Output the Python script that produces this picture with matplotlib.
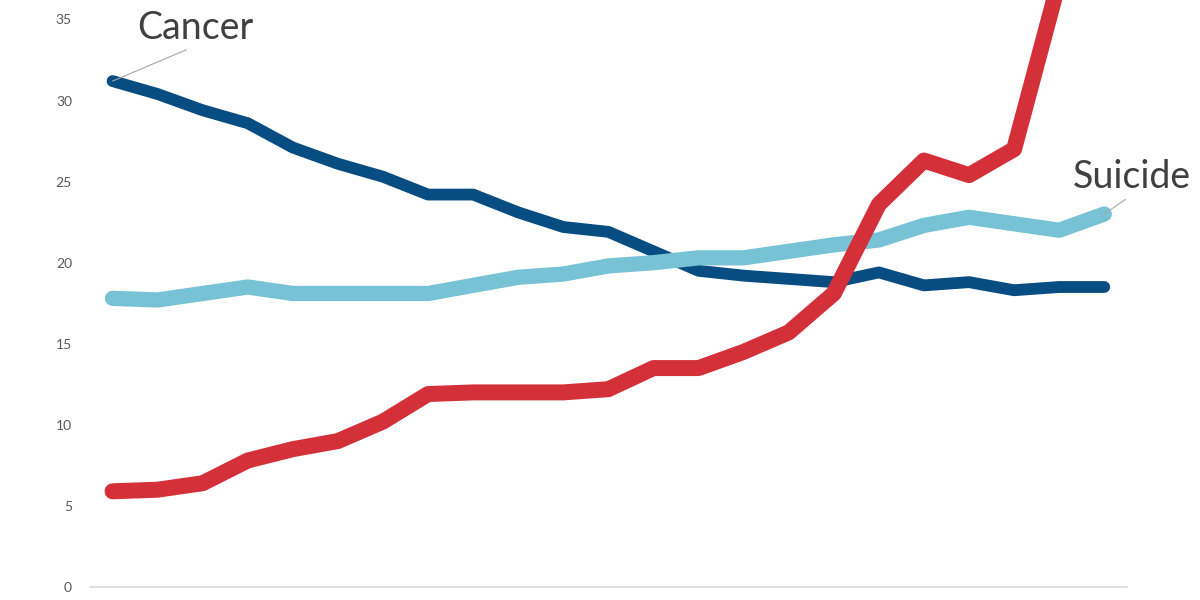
import matplotlib.pyplot as plt
import numpy as np

# values (23 yearly points)
years = list(range(23))
cancer = [31.2, 30.4, 29.4, 28.6, 27.1, 26.1, 25.3, 24.2, 24.2, 23.1, 22.2, 21.9,
          20.7, 19.5, 19.2, 19.0, 18.8, 19.4, 18.6, 18.8, 18.3, 18.5, 18.5]
suicide = [17.8, 17.7, 18.1, 18.5, 18.1, 18.1, 18.1, 18.1, 18.6, 19.1, 19.3, 19.8,
           20.0, 20.3, 20.3, 20.7, 21.1, 21.4, 22.3, 22.8, 22.4, 22.0, 23.0]
overdose = [5.9, 6.0, 6.4, 7.8, 8.5, 9.0, 10.2, 11.9, 12.0, 12.0, 12.0, 12.2,
            13.5, 13.5, 14.5, 15.7, 18.1, 23.6, 26.3, 25.4, 27.0, 37.4, 42.0]
yticks = [0, 5, 10, 15, 20, 25, 30, 35]

plt.rcParams['font.family'] = ['Lato', 'DejaVu Sans']

fig = plt.figure(figsize=(12, 6), dpi=100)
ax = fig.add_axes([0.075, 0.0217, 0.864, 0.9783])

ax.plot(years, cancer, color='#074d82', lw=8.5, solid_capstyle='round',
        solid_joinstyle='round', zorder=2)
ax.plot(years, suicide, color='#77c3d5', lw=11, solid_capstyle='round',
        solid_joinstyle='round', zorder=3)
ax.plot(years, overdose, color='#d3303a', lw=11.5, solid_capstyle='round',
        solid_joinstyle='round', zorder=4)

ax.set_xlim(-0.5, 22.5)
ax.set_ylim(0, 36.2)
ax.set_yticks(yticks)
ax.set_yticklabels([str(v) for v in yticks], color='#595959', fontsize=10)
ax.set_xticks([])
ax.tick_params(axis='y', length=0, pad=13)

for s in ['top', 'right', 'left']:
    ax.spines[s].set_visible(False)
ax.spines['bottom'].set_color('#d9d9d9')
ax.spines['bottom'].set_linewidth(1.2)

# labels with leader lines
ax.annotate('Cancer', xy=(years[0], cancer[0]), xytext=(0.55, 33.8),
            fontsize=27, color='#404040', ha='left', va='baseline',
            arrowprops=dict(arrowstyle='-', color='#a6a6a6', lw=0.8,
                            relpos=(0.5, 0), shrinkA=2, shrinkB=0), zorder=5)
ax.annotate('Suicide', xy=(years[-1], suicide[-1]), xytext=(21.3, 24.6),
            fontsize=27, color='#404040', ha='left', va='baseline',
            arrowprops=dict(arrowstyle='-', color='#a6a6a6', lw=0.8,
                            relpos=(0.5, 0), shrinkA=2, shrinkB=0),
            annotation_clip=False, zorder=5)

fig.savefig('out.png', dpi=100)
